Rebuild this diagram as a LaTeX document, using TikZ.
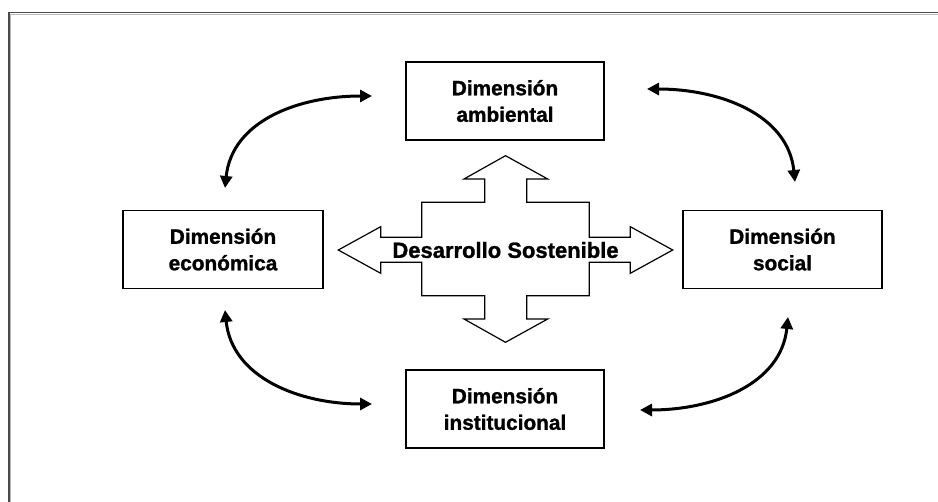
\documentclass[tikz,border=0pt]{standalone}
\usepackage{fontspec}
\setmainfont{Liberation Sans}[BoldFeatures={FakeBold=1.2}]
\usetikzlibrary{arrows.meta}

\definecolor{framedark}{HTML}{4A4A4A}
\definecolor{framelight}{HTML}{B8B8B8}

\tikzset{
  dimbox/.style={draw=black, line width=1.4pt, fill=white, inner sep=0pt,
    minimum width=198pt, minimum height=78pt, align=center,
    font=\bfseries\fontsize{20.8}{26.5}\selectfont},
  linkarrow/.style={line width=3pt, {Triangle[length=12pt,width=12pt]}-{Triangle[length=12pt,width=12pt]}},
  crossshape/.style={draw=black, line width=1.2pt, fill=white, line join=miter},
  crosslabel/.style={font=\bfseries\fontsize{22}{24}\selectfont, inner sep=0pt}
}

\begin{document}
\begin{tikzpicture}[x=1pt,y=-1pt]
  \useasboundingbox (0,0) rectangle (938,502);
  \fill[white] (0,0) rectangle (938,502);

  % open frame: left and top edges only
  \draw[framelight, line width=1pt] (10.2,502) -- (10.2,14.2) -- (938,14.2);
  \draw[framedark, line width=1.6pt] (8.7,502) -- (8.7,12.7) -- (938,12.7);

  % four-way arrow in the centre
  \draw[crossshape]
    (505.5,155.7) -- (547.7,179) -- (526.7,179) -- (526.7,202.3)
    -- (589.3,202.3) -- (589.3,237.3) -- (630.3,237.3) -- (630.3,226.7)
    -- (672.7,250) -- (630.3,273.3) -- (630.3,262.3) -- (589.3,262.3)
    -- (589.3,295.7) -- (526.7,295.7) -- (526.7,319) -- (547.7,319)
    -- (505.5,342.3) -- (464,319) -- (484.7,319) -- (484.7,295.7)
    -- (421.7,295.7) -- (421.7,262.3) -- (380.7,262.3) -- (380.7,273.3)
    -- (338.3,250) -- (380.7,226.7) -- (380.7,237.3) -- (421.7,237.3)
    -- (421.7,202.3) -- (484.7,202.3) -- (484.7,179) -- (464,179) -- cycle;
  \node[crosslabel] (ds) at (505.5,250) {Desarrollo Sostenible};

  % the four dimensions
  \node[dimbox] (amb) at (505,101) {Dimensión\\ambiental};
  \node[dimbox, minimum width=200pt] (eco) at (223,249.5) {Dimensión\\económica};
  \node[dimbox, minimum width=199pt] (soc) at (782.5,249.5) {Dimensión\\social};
  \node[dimbox] (ins) at (505,409) {Dimensión\\institucional};

  % end points of the curved links
  \coordinate (tlA) at (225,188);  \coordinate (tlB) at (372,96);
  \coordinate (trA) at (647,89);   \coordinate (trB) at (795,182);
  \coordinate (blA) at (225,310);  \coordinate (blB) at (372,404);
  \coordinate (brA) at (788,317);  \coordinate (brB) at (640,410);

  % curved two-way links between neighbouring dimensions
  \draw[linkarrow] (tlA) .. controls (232,120) and (300,96) .. (tlB);
  \draw[linkarrow] (trA) .. controls (719,89) and (788,114) .. (trB);
  \draw[linkarrow] (blA) .. controls (232,378) and (300,404) .. (blB);
  \draw[linkarrow] (brA) .. controls (781,385) and (712,410) .. (brB);
\end{tikzpicture}
\end{document}
